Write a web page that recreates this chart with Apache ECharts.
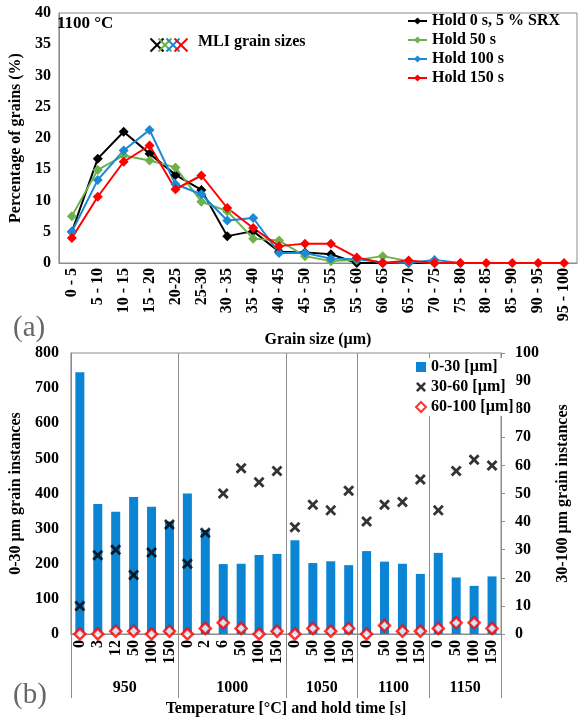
<!DOCTYPE html>
<html>
<head>
<meta charset="utf-8">
<script src="https://cdn.jsdelivr.net/npm/echarts@6/dist/echarts.min.js"></script>
<style>
  html, body { margin: 0; padding: 0; background: #fff; }
  #chart { width: 579px; height: 719px; }
</style>
</head>
<body>
<div id="chart"></div>
<script>
// (a) grain size distribution, 1100 °C
const sizeBins = ['0 - 5', '5 - 10', '10 - 15', '15 - 20', '20-25', '25-30', '30 - 35', '35 - 40', '40 - 45', '45 - 50',
  '50 - 55', '55 - 60', '60 - 65', '65 - 70', '70 - 75', '75 - 80', '80 - 85', '85 - 90', '90 - 95', '95 - 100']
const hold0 = [5.0, 16.7, 21.0, 17.5, 14.1, 11.7, 4.3, 5.1, 1.8, 1.7, 1.4, 0, 0, 0, 0]
const hold50 = [7.5, 14.9, 17.2, 16.4, 15.3, 9.8, 8.3, 3.9, 3.6, 1.1, 0.3, 0.5, 1.1, 0.3, 0]
const hold100 = [5.0, 13.3, 18.0, 21.3, 12.6, 11.0, 6.8, 7.2, 1.6, 1.6, 0.7, 0.6, 0.1, 0, 0.5, 0]
const hold150 = [4.0, 10.6, 16.2, 18.8, 11.8, 14.0, 8.8, 5.6, 2.7, 3.1, 3.1, 0.9, 0, 0.4, 0, 0, 0, 0, 0, 0]
const holdNames = ['Hold 0 s, 5 % SRX', 'Hold 50 s', 'Hold 100 s', 'Hold 150 s']

// (b) grain instances per temperature / hold time
const groupNames = ['950', '1000', '1050', '1100', '1150']
const groupSizes = [6, 6, 4, 4, 4]
const holdTimes = ['0', '3', '12', '50', '100', '150', '0', '2', '6', '50', '100', '150',
  '0', '50', '100', '150', '0', '50', '100', '150', '0', '50', '100', '150']
const small = [745, 370, 348, 390, 362, 320, 400, 296, 199, 200, 225, 228,
  267, 202, 207, 196, 236, 206, 200, 171, 231, 161, 137, 164]
const medium = [10, 28, 30, 21, 29, 39, 25, 36, 50, 59, 54, 58,
  38, 46, 44, 51, 40, 46, 47, 55, 44, 58, 62, 60]
const large = [0, 0, 1, 1, 0, 1, 0, 2, 4, 2, 0, 1,
  0, 2, 1, 2, 0, 3, 1, 1, 2, 4, 4, 2]
const barNames = ['0-30 [µm]', '30-60 [µm]', '60-100 [µm]']

const FONT = '"Liberation Serif", "Times New Roman", serif'
const GRAY = '#8c8c8c'
const lineColors = ['#000000', '#6cb24a', '#1b8ad6', '#ff0000']
const crossPath = 'path://M0,1.8L1.8,0L5,3.2L8.2,0L10,1.8L6.8,5L10,8.2L8.2,10L5,6.8L1.8,10L0,8.2L3.2,5Z'

const txt = (size) => ({ fontFamily: FONT, fontWeight: 'bold', fontSize: size || 16, color: '#000' })

// group edges / centres for the temperature axis
const groupEdges = [0]
const groupCenters = []
groupSizes.forEach((n, i) => {
  groupCenters.push(groupEdges[i] + n / 2)
  groupEdges.push(groupEdges[i] + n)
})

const chart = echarts.init(document.getElementById('chart'))

// small coloured crosses next to "MLI grain sizes"
const crosses = lineColors.map((c, i) => ({
  type: 'group',
  left: 148 + i * 8,
  top: 36,
  children: [
    { type: 'line', shape: { x1: 0, y1: 0, x2: 13, y2: 13 }, style: { stroke: c, lineWidth: 2 } },
    { type: 'line', shape: { x1: 0, y1: 13, x2: 13, y2: 0 }, style: { stroke: c, lineWidth: 2 } }
  ]
}))

const option = {
  animation: false,
  backgroundColor: '#fff',
  title: [
    { text: '1100 °C', left: 57, top: 15, padding: 0, textStyle: txt(17) },
    { text: 'MLI grain sizes', left: 198, top: 34, padding: 0, textStyle: txt(16) },
    { text: '(a)', left: 13, top: 314, padding: 0, textStyle: { fontFamily: FONT, fontSize: 29, fontWeight: 'normal', color: '#666' } },
    { text: '(b)', left: 13, top: 681, padding: 0, textStyle: { fontFamily: FONT, fontSize: 29, fontWeight: 'normal', color: '#666' } }
  ],
  graphic: crosses,
  legend: [
    {
      data: holdNames,
      orient: 'vertical',
      left: 407,
      top: 13,
      padding: 0,
      itemGap: 3,
      itemWidth: 19,
      itemHeight: 9,
      textStyle: txt(16)
    },
    {
      data: [{ name: barNames[0], icon: 'rect' }, barNames[1], barNames[2]],
      orient: 'vertical',
      left: 413,
      top: 358,
      padding: [1, 3, 1, 2],
      itemGap: 4,
      itemWidth: 10,
      itemHeight: 10,
      backgroundColor: '#fff',
      textStyle: txt(16)
    }
  ],
  grid: [
    { left: 55, top: 13, width: 522, height: 250, show: true, borderColor: GRAY, borderWidth: 1 },
    { left: 62, top: 353, width: 457, height: 281, show: true, borderColor: GRAY, borderWidth: 1 }
  ],
  xAxis: [
    {
      gridIndex: 0,
      type: 'category',
      data: sizeBins,
      axisLine: { lineStyle: { color: GRAY } },
      axisTick: { length: 4, lineStyle: { color: GRAY } },
      axisLabel: { ...txt(16), rotate: 90, interval: 0, margin: 5 },
      name: 'Grain size (µm)',
      nameLocation: 'middle',
      nameGap: 69,
      nameTextStyle: txt(16)
    },
    {
      gridIndex: 1,
      type: 'category',
      data: holdTimes,
      axisLine: { lineStyle: { color: GRAY } },
      axisTick: { show: false },
      axisLabel: { ...txt(16), rotate: 90, interval: 0, margin: 6 }
    },
    {
      gridIndex: 1,
      type: 'value',
      min: 0,
      max: groupEdges[groupEdges.length - 1],
      position: 'bottom',
      axisLine: { show: false },
      axisTick: { show: true, customValues: groupEdges, length: 64, lineStyle: { color: GRAY } },
      splitLine: { show: true, lineStyle: { color: GRAY, type: 'solid' } },
      axisLabel: {
        ...txt(16),
        customValues: groupCenters,
        margin: 46,
        formatter: (v) => groupNames[groupCenters.indexOf(v)] || ''
      },
      name: 'Temperature [°C] and hold time [s]',
      nameLocation: 'middle',
      nameGap: 67,
      nameTextStyle: txt(16)
    }
  ],
  yAxis: [
    {
      gridIndex: 0,
      type: 'value',
      min: 0,
      max: 40,
      interval: 5,
      axisLine: { show: true, lineStyle: { color: GRAY } },
      axisTick: { show: false },
      splitLine: { show: false },
      axisLabel: { ...txt(16), margin: 8 },
      name: 'Percentage of grains (%)',
      nameLocation: 'middle',
      nameRotate: 90,
      nameGap: 32,
      nameTextStyle: txt(16)
    },
    {
      gridIndex: 1,
      type: 'value',
      min: 0,
      max: 800,
      interval: 100,
      axisLine: { show: true, lineStyle: { color: GRAY } },
      axisTick: { show: false },
      splitLine: { show: false },
      axisLabel: { ...txt(16), margin: 12 },
      name: '0-30 µm grain instances',
      nameLocation: 'middle',
      nameRotate: 90,
      nameGap: 36,
      nameTextStyle: txt(16)
    },
    {
      gridIndex: 1,
      type: 'value',
      position: 'right',
      min: 0,
      max: 100,
      interval: 10,
      axisLine: { show: true, lineStyle: { color: GRAY } },
      axisTick: { show: true, length: 4, lineStyle: { color: GRAY } },
      splitLine: { show: false },
      axisLabel: { ...txt(16), margin: 14 },
      name: '30-100 µm grain instances',
      nameLocation: 'middle',
      nameRotate: 90,
      nameGap: 54,
      nameTextStyle: txt(16)
    }
  ],
  series: [
    ...[hold0, hold50, hold100, hold150].map((d, i) => ({
      name: holdNames[i],
      type: 'line',
      xAxisIndex: 0,
      yAxisIndex: 0,
      data: d,
      symbol: 'diamond',
      symbolSize: 10,
      color: lineColors[i],
      lineStyle: { width: 2 }
    })),
    {
      name: barNames[0],
      type: 'bar',
      xAxisIndex: 1,
      yAxisIndex: 1,
      data: small,
      barWidth: 9,
      itemStyle: { color: '#0a84d3' }
    },
    {
      name: barNames[1],
      type: 'scatter',
      xAxisIndex: 1,
      yAxisIndex: 2,
      data: medium,
      symbol: crossPath,
      symbolSize: 11,
      itemStyle: { color: '#000' }
    },
    {
      name: barNames[2],
      type: 'scatter',
      xAxisIndex: 1,
      yAxisIndex: 2,
      data: large,
      symbol: 'diamond',
      symbolSize: 11,
      itemStyle: { color: '#fff', borderColor: '#ff0000', borderWidth: 2.5 }
    }
  ]
}

chart.setOption(option)
</script>
</body>
</html>
